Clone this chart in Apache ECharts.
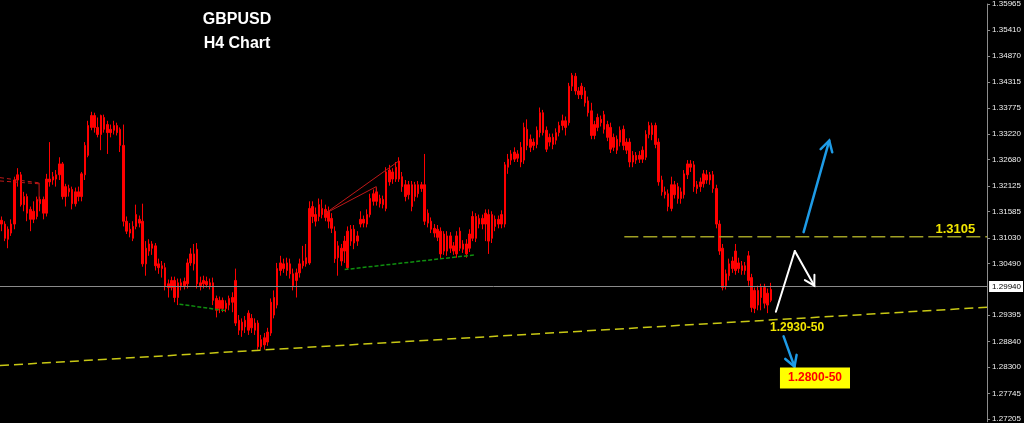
<!DOCTYPE html>
<html><head><meta charset="utf-8">
<script src="https://cdn.jsdelivr.net/npm/echarts@6/dist/echarts.min.js"></script>
<style>html,body{margin:0;padding:0;background:#000;}#chart{width:1024px;height:423px;}</style>
</head><body><div id="chart"></div>
<script>
// ---- GBPUSD H4 candles (open, close, low, high) ----
const opens = [
1.3132,1.3132,1.3121,1.3113,1.3132,1.3225,1.3236,1.3190,1.3190,1.3163,
1.3142,1.3148,1.3184,1.3184,1.3155,1.3227,1.3225,1.3227,1.3236,1.3259,
1.3190,1.3207,1.3205,1.3175,1.3190,1.3190,1.3236,1.3277,1.3336,1.3361,
1.3336,1.3321,1.3357,1.3342,1.3332,1.3330,1.3340,1.3332,1.3298,1.3138,
1.3121,1.3102,1.3127,1.3142,1.3138,1.3048,1.3075,1.3090,1.3086,1.3048,
1.3044,1.3040,1.2998,1.2998,1.3013,1.2977,1.3008,1.3002,1.3006,1.3050,
1.3069,1.3079,1.3002,1.3013,1.3011,1.3008,1.3008,1.2975,1.2954,1.2971,
1.2954,1.2961,1.2967,1.3013,1.2929,1.2908,1.2915,1.2944,1.2933,1.2923,
1.2923,1.2873,1.2877,1.2883,1.2902,1.2940,1.2961,1.3034,1.3048,1.3034,
1.3048,1.3027,1.3013,1.3029,1.3044,1.3048,1.3050,1.3169,1.3152,1.3148,
1.3165,1.3163,1.3159,1.3144,1.3117,1.3061,1.3081,1.3075,1.3117,1.3096,
1.3121,1.3096,1.3132,1.3142,1.3132,1.3152,1.3180,1.3180,1.3186,1.3184,
1.3165,1.3221,1.3242,1.3227,1.3227,1.3232,1.3215,1.3194,1.3215,1.3190,
1.3215,1.3207,1.3215,1.3155,1.3138,1.3123,1.3104,1.3117,1.3075,1.3107,
1.3081,1.3086,1.3069,1.3081,1.3090,1.3090,1.3081,1.3102,1.3148,1.3132,
1.3144,1.3132,1.3152,1.3102,1.3142,1.3142,1.3132,1.3132,1.3252,1.3267,
1.3269,1.3280,1.3263,1.3267,1.3332,1.3311,1.3305,1.3300,1.3325,1.3367,
1.3330,1.3305,1.3315,1.3309,1.3325,1.3340,1.3350,1.3346,1.3423,1.3444,
1.3413,1.3405,1.3413,1.3392,1.3371,1.3319,1.3336,1.3353,1.3332,1.3342,
1.3336,1.3294,1.3311,1.3305,1.3332,1.3305,1.3305,1.3263,1.3277,1.3269,
1.3269,1.3273,1.3321,1.3340,1.3340,1.3305,1.3225,1.3200,1.3196,1.3165,
1.3215,1.3211,1.3186,1.3194,1.3236,1.3259,1.3257,1.3215,1.3211,1.3217,
1.3236,1.3225,1.3236,1.3207,1.3132,1.3081,1.3002,1.3023,1.3038,1.3034,
1.3050,1.3044,1.3034,1.3065,1.3019,1.2992,1.2961,1.2977,1.2998,1.2986,1.2971];
const closes = [
1.3140,1.3102,1.3100,1.3132,1.3225,1.3236,1.3173,1.3173,1.3155,1.3142,
1.3159,1.3184,1.3175,1.3155,1.3227,1.3221,1.3232,1.3236,1.3259,1.3190,
1.3211,1.3200,1.3175,1.3200,1.3200,1.3238,1.3298,1.3340,1.3361,1.3336,
1.3321,1.3361,1.3332,1.3325,1.3325,1.3340,1.3325,1.3298,1.3138,1.3117,
1.3113,1.3127,1.3152,1.3134,1.3048,1.3081,1.3090,1.3081,1.3044,1.3040,
1.3038,1.3002,1.3006,1.3013,1.2977,1.3008,1.3002,1.3011,1.3050,1.3069,
1.3048,1.3006,1.3008,1.3006,1.3004,1.3002,1.2971,1.2950,1.2971,1.2954,
1.2965,1.2975,1.2977,1.2923,1.2908,1.2925,1.2929,1.2908,1.2913,1.2908,
1.2873,1.2888,1.2892,1.2904,1.2967,1.2977,1.3038,1.3050,1.3038,1.3050,
1.3027,1.3002,1.3029,1.3048,1.3054,1.3061,1.3165,1.3148,1.3138,1.3173,
1.3152,1.3146,1.3138,1.3123,1.3059,1.3086,1.3054,1.3096,1.3040,1.3121,
1.3092,1.3107,1.3142,1.3134,1.3152,1.3186,1.3196,1.3200,1.3175,1.3173,
1.3242,1.3246,1.3227,1.3252,1.3265,1.3211,1.3190,1.3215,1.3169,1.3215,
1.3196,1.3215,1.3138,1.3134,1.3121,1.3113,1.3121,1.3069,1.3111,1.3075,
1.3107,1.3075,1.3107,1.3117,1.3079,1.3069,1.3111,1.3148,1.3102,1.3144,
1.3132,1.3155,1.3096,1.3152,1.3127,1.3132,1.3152,1.3257,1.3269,1.3280,
1.3284,1.3271,1.3294,1.3336,1.3298,1.3294,1.3298,1.3330,1.3367,1.3325,
1.3290,1.3315,1.3300,1.3325,1.3340,1.3350,1.3336,1.3423,1.3446,1.3413,
1.3405,1.3423,1.3388,1.3367,1.3319,1.3342,1.3357,1.3346,1.3363,1.3315,
1.3290,1.3315,1.3288,1.3330,1.3298,1.3288,1.3263,1.3277,1.3267,1.3277,
1.3288,1.3321,1.3340,1.3321,1.3300,1.3221,1.3200,1.3194,1.3169,1.3215,
1.3194,1.3186,1.3200,1.3238,1.3259,1.3252,1.3211,1.3207,1.3221,1.3238,
1.3225,1.3236,1.3207,1.3132,1.3075,1.2998,1.3027,1.3048,1.3054,1.3075,
1.3038,1.3034,1.3044,1.3013,1.2956,1.2954,1.2992,1.2998,1.2965,1.2961,1.2994];
const lows = [
1.3117,1.3096,1.3081,1.3107,1.3121,1.3211,1.3169,1.3159,1.3138,1.3117,
1.3134,1.3142,1.3159,1.3142,1.3148,1.3211,1.3215,1.3211,1.3225,1.3184,
1.3169,1.3190,1.3163,1.3169,1.3180,1.3180,1.3225,1.3273,1.3330,1.3325,
1.3315,1.3288,1.3325,1.3280,1.3315,1.3321,1.3319,1.3284,1.3127,1.3111,
1.3104,1.3096,1.3121,1.3125,1.3042,1.3023,1.3065,1.3067,1.3034,1.3027,
1.3019,1.2992,1.2977,1.2992,1.2967,1.2961,1.2992,1.2994,1.2996,1.3044,
1.3034,1.2996,1.2992,1.2996,1.2998,1.2994,1.2961,1.2935,1.2944,1.2946,
1.2946,1.2950,1.2946,1.2917,1.2898,1.2894,1.2902,1.2898,1.2902,1.2898,
1.2867,1.2867,1.2867,1.2875,1.2896,1.2933,1.2954,1.3023,1.3029,1.3023,
1.3017,1.2992,1.2977,1.3019,1.3038,1.3042,1.3046,1.3134,1.3127,1.3138,
1.3144,1.3138,1.3123,1.3113,1.3050,1.3023,1.3044,1.3050,1.3036,1.3086,
1.3079,1.3086,1.3125,1.3125,1.3125,1.3146,1.3171,1.3171,1.3167,1.3165,
1.3159,1.3213,1.3217,1.3221,1.3221,1.3200,1.3180,1.3184,1.3159,1.3180,
1.3188,1.3200,1.3130,1.3125,1.3113,1.3104,1.3096,1.3059,1.3067,1.3065,
1.3071,1.3067,1.3061,1.3075,1.3071,1.3061,1.3073,1.3096,1.3094,1.3123,
1.3121,1.3096,1.3069,1.3092,1.3117,1.3123,1.3123,1.3125,1.3238,1.3257,
1.3263,1.3263,1.3252,1.3259,1.3288,1.3284,1.3288,1.3292,1.3315,1.3319,
1.3284,1.3296,1.3290,1.3300,1.3317,1.3330,1.3319,1.3340,1.3413,1.3405,
1.3396,1.3396,1.3380,1.3359,1.3311,1.3311,1.3328,1.3338,1.3323,1.3307,
1.3282,1.3286,1.3280,1.3296,1.3288,1.3280,1.3252,1.3252,1.3259,1.3261,
1.3261,1.3267,1.3313,1.3309,1.3292,1.3213,1.3192,1.3186,1.3159,1.3159,
1.3186,1.3175,1.3175,1.3186,1.3227,1.3242,1.3200,1.3196,1.3200,1.3209,
1.3217,1.3215,1.3198,1.3123,1.3067,1.2992,1.2994,1.3013,1.3029,1.3025,
1.3029,1.3025,1.3025,1.3002,1.2946,1.2944,1.2950,1.2950,1.2954,1.2944,1.2967];
const highs = [
1.3148,1.3138,1.3127,1.3142,1.3232,1.3250,1.3242,1.3200,1.3196,1.3169,
1.3180,1.3190,1.3190,1.3190,1.3238,1.3305,1.3242,1.3246,1.3273,1.3263,
1.3217,1.3215,1.3211,1.3209,1.3211,1.3242,1.3305,1.3350,1.3369,1.3367,
1.3357,1.3363,1.3363,1.3350,1.3342,1.3350,1.3346,1.3336,1.3342,1.3148,
1.3134,1.3138,1.3173,1.3150,1.3175,1.3096,1.3100,1.3096,1.3092,1.3059,
1.3054,1.3050,1.3015,1.3021,1.3021,1.3017,1.3017,1.3019,1.3059,1.3081,
1.3090,1.3092,1.3021,1.3023,1.3021,1.3017,1.3019,1.2981,1.2979,1.2977,
1.2971,1.2981,1.2988,1.3038,1.2940,1.2933,1.2938,1.2950,1.2942,1.2933,
1.2929,1.2898,1.2902,1.2913,1.2975,1.2992,1.3050,1.3065,1.3059,1.3061,
1.3059,1.3038,1.3038,1.3059,1.3086,1.3090,1.3180,1.3180,1.3167,1.3186,
1.3184,1.3173,1.3169,1.3155,1.3127,1.3096,1.3090,1.3107,1.3127,1.3130,
1.3130,1.3117,1.3159,1.3150,1.3163,1.3196,1.3205,1.3209,1.3194,1.3192,
1.3252,1.3257,1.3250,1.3263,1.3273,1.3242,1.3225,1.3223,1.3223,1.3221,
1.3223,1.3221,1.3280,1.3163,1.3146,1.3132,1.3130,1.3125,1.3117,1.3117,
1.3115,1.3094,1.3117,1.3125,1.3098,1.3100,1.3121,1.3159,1.3155,1.3152,
1.3152,1.3163,1.3163,1.3159,1.3150,1.3150,1.3161,1.3263,1.3280,1.3288,
1.3294,1.3288,1.3305,1.3346,1.3353,1.3321,1.3313,1.3338,1.3378,1.3373,
1.3338,1.3323,1.3323,1.3334,1.3348,1.3363,1.3359,1.3430,1.3451,1.3451,
1.3421,1.3430,1.3421,1.3401,1.3388,1.3350,1.3365,1.3361,1.3371,1.3350,
1.3346,1.3323,1.3319,1.3338,1.3340,1.3313,1.3313,1.3286,1.3284,1.3286,
1.3296,1.3330,1.3348,1.3346,1.3346,1.3313,1.3234,1.3211,1.3205,1.3232,
1.3223,1.3219,1.3209,1.3246,1.3267,1.3267,1.3265,1.3223,1.3230,1.3246,
1.3246,1.3242,1.3244,1.3215,1.3140,1.3090,1.3036,1.3059,1.3063,1.3090,
1.3061,1.3054,1.3052,1.3075,1.3027,1.2998,1.3002,1.3006,1.3006,1.2996,1.3008];

// ---- price axis ----
const tickValues = [1.35965,1.35410,1.34870,1.34315,1.33775,1.33220,1.32680,1.32125,1.31585,1.31030,1.30490,1.29395,1.28840,1.28300,1.27745,1.27205];
const priceMin = 1.27146, priceMax = 1.35965;
const currentPrice = 1.29940;
const slotCount = 308;   // visible bar slots (chart shift leaves empty space on the right)

// ---- drawings, in (bar index, price) ----
const supportLine = [[-0.5, 1.28334, 307.5, 1.29565]];
const resistanceLine = [[194.3, 1.3105, 307.5, 1.3105]];
const greenLines = [[55.5, 1.2963, 70.1, 1.2949], [107.05, 1.3036, 147.8, 1.3067]];
const redLines = [[100.9, 1.3154, 123.7, 1.3264], [100.9, 1.3154, 116.9, 1.3211], [116.9, 1.3211, 116.9, 1.3200], [11.7, 1.3219, 11.7, 1.3180]];
const redDashedLines = [[-0.5, 1.3230, 11.7, 1.3219], [-0.5, 1.3223, 11.7, 1.3217]];
const blueArrows = [[250.25, 1.3115, 258.25, 1.3308, 1], [244.0, 1.2895, 247.4, 1.2831, 1]];
const whiteArrows = [[241.6, 1.2947, 247.5, 1.3075, 0], [247.5, 1.3075, 253.6, 1.3002, 1]];
const noteTexts = ['1.3105', '1.2930-50', '1.2800-50'];
const notePositions = [[297.6, 1.3120], [248.2, 1.2914], [253.8, 1.2807]];

const candleRows = opens.map((o, i) => [o, closes[i], lows[i], highs[i]]);
const slots = Array.from({length: slotCount}, (_, i) => String(i));

function segSeries(list, color, width, dash, z) {
  return list.map(s => ({
    type: 'line', xAxisIndex: 1, yAxisIndex: 0, silent: true, animation: false,
    symbol: 'none', z: z,
    data: [[s[0], s[1]], [s[2], s[3]]],
    lineStyle: {color: color, width: width, type: dash}
  }));
}

function arrowSeries(data, color, width, headLen) {
  return {
    type: 'custom', xAxisIndex: 1, yAxisIndex: 0, silent: true, animation: false, z: 8,
    clip: false, data: data, encode: {x: [0, 2], y: [1, 3]},
    renderItem: function (params, api) {
      const a = api.coord([api.value(0), api.value(1)]);
      const b = api.coord([api.value(2), api.value(3)]);
      const children = [{type: 'line', shape: {x1: a[0], y1: a[1], x2: b[0], y2: b[1]},
        style: {stroke: color, lineWidth: width, lineCap: 'round'}}];
      if (api.value(4)) {
        const ang = Math.atan2(b[1] - a[1], b[0] - a[0]);
        const s = Math.PI / 6;
        const p1 = [b[0] - headLen * Math.cos(ang - s), b[1] - headLen * Math.sin(ang - s)];
        const p2 = [b[0] - headLen * Math.cos(ang + s), b[1] - headLen * Math.sin(ang + s)];
        children.push({type: 'polyline', shape: {points: [p1, b, p2]},
          style: {stroke: color, lineWidth: width, fill: null, lineJoin: 'miter', lineCap: 'round'}});
      }
      return {type: 'group', children: children};
    }
  };
}

const noteStyles = [
  {fill: '#f2e600', font: 'bold 13px "Liberation Sans", Arial'},
  {fill: '#f2e600', font: 'bold 12px "Liberation Sans", Arial'},
  {fill: '#ff0000', font: 'bold 12px "Liberation Sans", Arial', backgroundColor: '#ffff00', padding: [5, 8, 4, 8]}
];

const chart = echarts.init(document.getElementById('chart'), null, {renderer: 'canvas'});
chart.setOption({
  backgroundColor: '#000000',
  animation: false,
  title: {
    text: 'GBPUSD\nH4 Chart', left: 232, top: 3, textAlign: 'center',
    textStyle: {color: '#ffffff', fontSize: 16, fontWeight: 'bold', lineHeight: 24, fontFamily: '"Liberation Sans", Arial'}
  },
  grid: {left: 0, right: 34, top: 0, bottom: 0},
  xAxis: [
    {type: 'category', data: slots, show: false, boundaryGap: true},
    {type: 'value', min: -0.5, max: slotCount - 0.5, show: false}
  ],
  yAxis: {
    type: 'value', position: 'right', min: priceMin, max: priceMax, scale: true,
    splitLine: {show: false},
    axisLine: {show: true, onZero: false, lineStyle: {color: '#8c8c8c', width: 1}},
    axisTick: {show: true, inside: false, length: 3, customValues: tickValues, lineStyle: {color: '#8c8c8c'}},
    axisLabel: {customValues: tickValues, formatter: v => v.toFixed(5), color: '#f0f0f0',
      fontSize: 8, fontFamily: '"Liberation Sans", Arial', margin: 5}
  },
  series: [
    {
      type: 'candlestick', xAxisIndex: 0, yAxisIndex: 0, data: candleRows, barWidth: 2, z: 3,
      itemStyle: {color: '#ff0000', color0: '#ff0000', borderColor: '#ff0000', borderColor0: '#ff0000', borderWidth: 1},
      markLine: {
        silent: true, animation: false, symbol: ['none', 'none'],
        data: [{yAxis: currentPrice}],
        lineStyle: {color: '#8a8a8a', width: 1, type: 'solid'},
        label: {show: true, position: 'end', distance: 2, formatter: currentPrice.toFixed(5),
          color: '#000', backgroundColor: '#ffffff', padding: [2, 2, 1, 3], fontSize: 8,
          fontFamily: '"Liberation Sans", Arial'}
      }
    },
    ...segSeries(supportLine, '#c8c814', 1.5, [9, 5], 4),
    ...segSeries(resistanceLine, '#a0a024', 1.5, [14, 5], 4),
    ...segSeries(greenLines, '#0f8f0f', 1.5, [4, 2], 4),
    ...segSeries(redLines, '#c01818', 1, 'solid', 4),
    ...segSeries(redDashedLines, '#c01818', 1, [4, 3], 4),
    arrowSeries(blueArrows, '#1e9be6', 2.5, 12),
    arrowSeries(whiteArrows, '#ffffff', 2, 11),
    {
      type: 'custom', xAxisIndex: 1, yAxisIndex: 0, silent: true, animation: false, z: 9, clip: false,
      data: notePositions, encode: {x: 0, y: 1},
      renderItem: function (params, api) {
        const p = api.coord([api.value(0), api.value(1)]);
        const st = noteStyles[params.dataIndex];
        return {type: 'text', x: p[0], y: p[1],
          style: Object.assign({text: noteTexts[params.dataIndex], align: 'center', verticalAlign: 'middle'}, st)};
      }
    }
  ]
});
</script>
</body></html>
